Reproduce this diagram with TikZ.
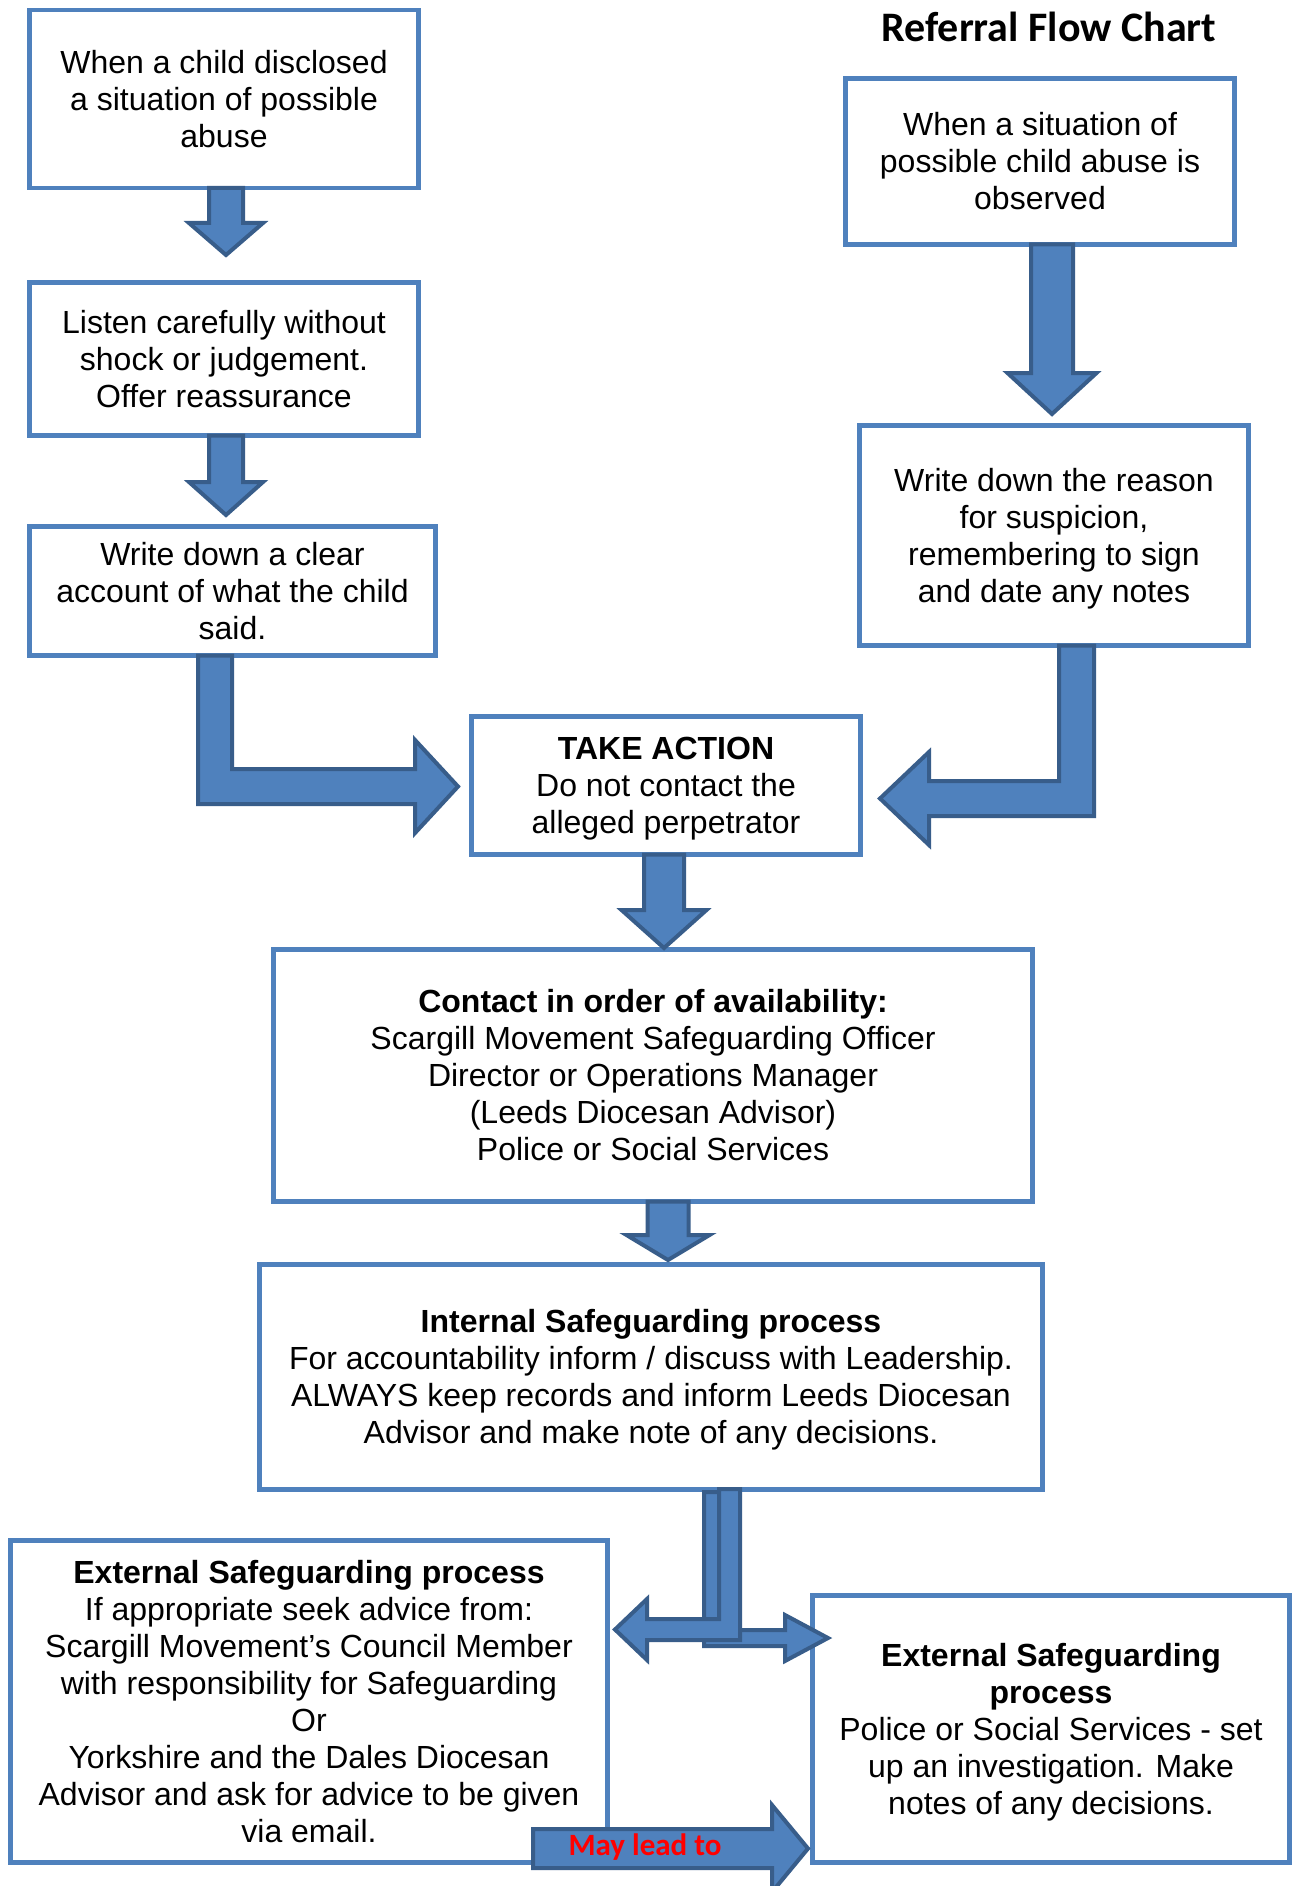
\documentclass[tikz,border=0pt]{standalone}
\usepackage{fontspec}
\setmainfont{Liberation Sans}
\newfontfamily\calibri{Carlito}
\usetikzlibrary{calc}
\definecolor{boxblue}{HTML}{4F81BD}
\definecolor{arrowfill}{HTML}{4F81BD}
\definecolor{arrowline}{HTML}{385D8A}
\newcommand\bstrut{\rule[-7.2pt]{0pt}{37.2pt}}
% #1 anchor, #2 x offset, #3 shaft length, #4 head length, #5 shaft half width, #6 head half width
\newcommand\downblock[6]{\draw[barrow] ($(#1)+({#2-#5},0)$) -- ++(0,#3) -- ++({#5-#6},0) -- ++(#6,#4) -- ++(#6,-#4) -- ++({#5-#6},0) -- ++(0,-#3) -- cycle;}
\begin{document}
\begin{tikzpicture}[x=1pt,y=-1pt,
  box/.style={draw=boxblue, line width=4.5pt, fill=white, inner sep=0pt, outer sep=0pt,
    align=center, font={\fontsize{32}{37}\selectfont\lineskiplimit=-1000pt}},
  barrow/.style={draw=arrowline, fill=arrowfill, line width=4pt, line join=miter},
  title/.style={font=\calibri\bfseries\fontsize{42}{48}\selectfont, anchor=base, inner sep=0pt},
  arrowlabel/.style={font=\calibri\bfseries\fontsize{31}{36}\selectfont, text=red, anchor=base, inner sep=0pt}]
\useasboundingbox (0,0) rectangle (1292,1886);
\fill[white] (0,0) rectangle (1292,1886);

\node[title] (title) at (1049,42) {Referral Flow Chart};

\node[box, minimum width=389pt, minimum height=178pt] (b1) at (224,99)
  {\bstrut When a child disclosed\\a situation of possible\\abuse\bstrut};
\node[box, minimum width=389pt, minimum height=153pt] (b2) at (224,359)
  {\bstrut Listen carefully without\\shock or judgement.\\Offer reassurance\bstrut};
\node[box, minimum width=406pt, minimum height=129pt] (b3) at (232.5,591)
  {\bstrut Write down a clear\\account of what the child\\said.\bstrut};
\node[box, minimum width=389pt, minimum height=166pt] (r1) at (1040,161.5)
  {\bstrut When a situation of\\possible child abuse is\\observed\bstrut};
\node[box, minimum width=389pt, minimum height=220pt] (r2) at (1054,535.5)
  {\bstrut Write down the reason\\for suspicion,\\remembering to sign\\and date any notes\bstrut};
\node[box, minimum width=389pt, minimum height=138pt] (ta) at (666,785.5)
  {\bstrut\textbf{TAKE ACTION}\\Do not contact the\\alleged perpetrator\bstrut};
\node[box, minimum width=759pt, minimum height=252pt] (ct) at (653,1075.5)
  {\bstrut\textbf{Contact in order of availability:}\\Scargill Movement Safeguarding Officer\\Director or Operations Manager\\(Leeds Diocesan Advisor)\\Police or Social Services\bstrut};
\node[box, minimum width=783pt, minimum height=225pt] (in) at (651,1377)
  {\bstrut\textbf{Internal Safeguarding process}\\For accountability inform / discuss with Leadership.\\ALWAYS keep records and inform Leeds Diocesan\\Advisor and make note of any decisions.\bstrut};
\node[box, minimum width=597pt, minimum height=322pt] (ebl) at (309,1701.5)
  {\bstrut\textbf{External Safeguarding process}\\If appropriate seek advice from:\\Scargill Movement’s Council Member\\with responsibility for Safeguarding\\Or\\Yorkshire and the Dales Diocesan\\Advisor and ask for advice to be given\\via email.\bstrut};
\node[box, minimum width=477pt, minimum height=267pt] (ebr) at (1051,1729)
  {\bstrut\textbf{External Safeguarding}\\\textbf{process}\\Police or Social Services - set\\up an investigation. Make\\notes of any decisions.\bstrut};

% straight down arrows
\downblock{b1.south}{2}{35}{32}{17}{37}
\downblock{b2.south}{2}{46.5}{33}{17}{37}
\downblock{r1.south}{12}{128.5}{41}{21}{44.5}
\downblock{ta.south}{-2}{55.5}{38}{20}{42.5}
\downblock{ct.south}{15}{33.5}{25}{20.5}{41.5}

% bent arrow from left column into TAKE ACTION
\draw[barrow] ($(b3.south)+(-34.5,0)$) -- ++(0,148.5) -- ++(217,0) -- ++(0,29)
  -- ++(43,-46.5) -- ++(-43,-46.5) -- ++(0,29) -- ++(-183,0) -- ++(0,-113.5) -- cycle;
% bent arrow from right column into TAKE ACTION
\draw[barrow] ($(r2.south)+(40,0)$) -- ++(0,170.5) -- ++(-165,0) -- ++(0,29)
  -- ++(-49,-46.5) -- ++(49,-46.5) -- ++(0,29) -- ++(130,0) -- ++(0,-135.5) -- cycle;

% split arrows below internal process
\draw[barrow] ($(in.south)+(53,2.5)$) -- ++(0,154) -- ++(81,0) -- ++(0,15)
  -- ++(43,-23) -- ++(-43,-23) -- ++(0,15) -- ++(-65,0) -- ++(0,-138) -- cycle;
\draw[barrow] ($(in.south)+(89,-0.5)$) -- ++(0,151) -- ++(-93,0) -- ++(0,20)
  -- ++(-32,-30.5) -- ++(32,-30.5) -- ++(0,20) -- ++(72,0) -- ++(0,-130) -- cycle;

% May lead to arrow
\coordinate (mltip) at ($(ebr.west)+(-4.5,119.5)$);
\draw[barrow] (mltip) -- ++(-36,-43.5) -- ++(0,24) -- ++(-239,0) -- ++(0,39)
  -- ++(239,0) -- ++(0,24) -- cycle;
\node[arrowlabel] (mlt) at (645,1855) {May lead to};
\end{tikzpicture}
\end{document}
